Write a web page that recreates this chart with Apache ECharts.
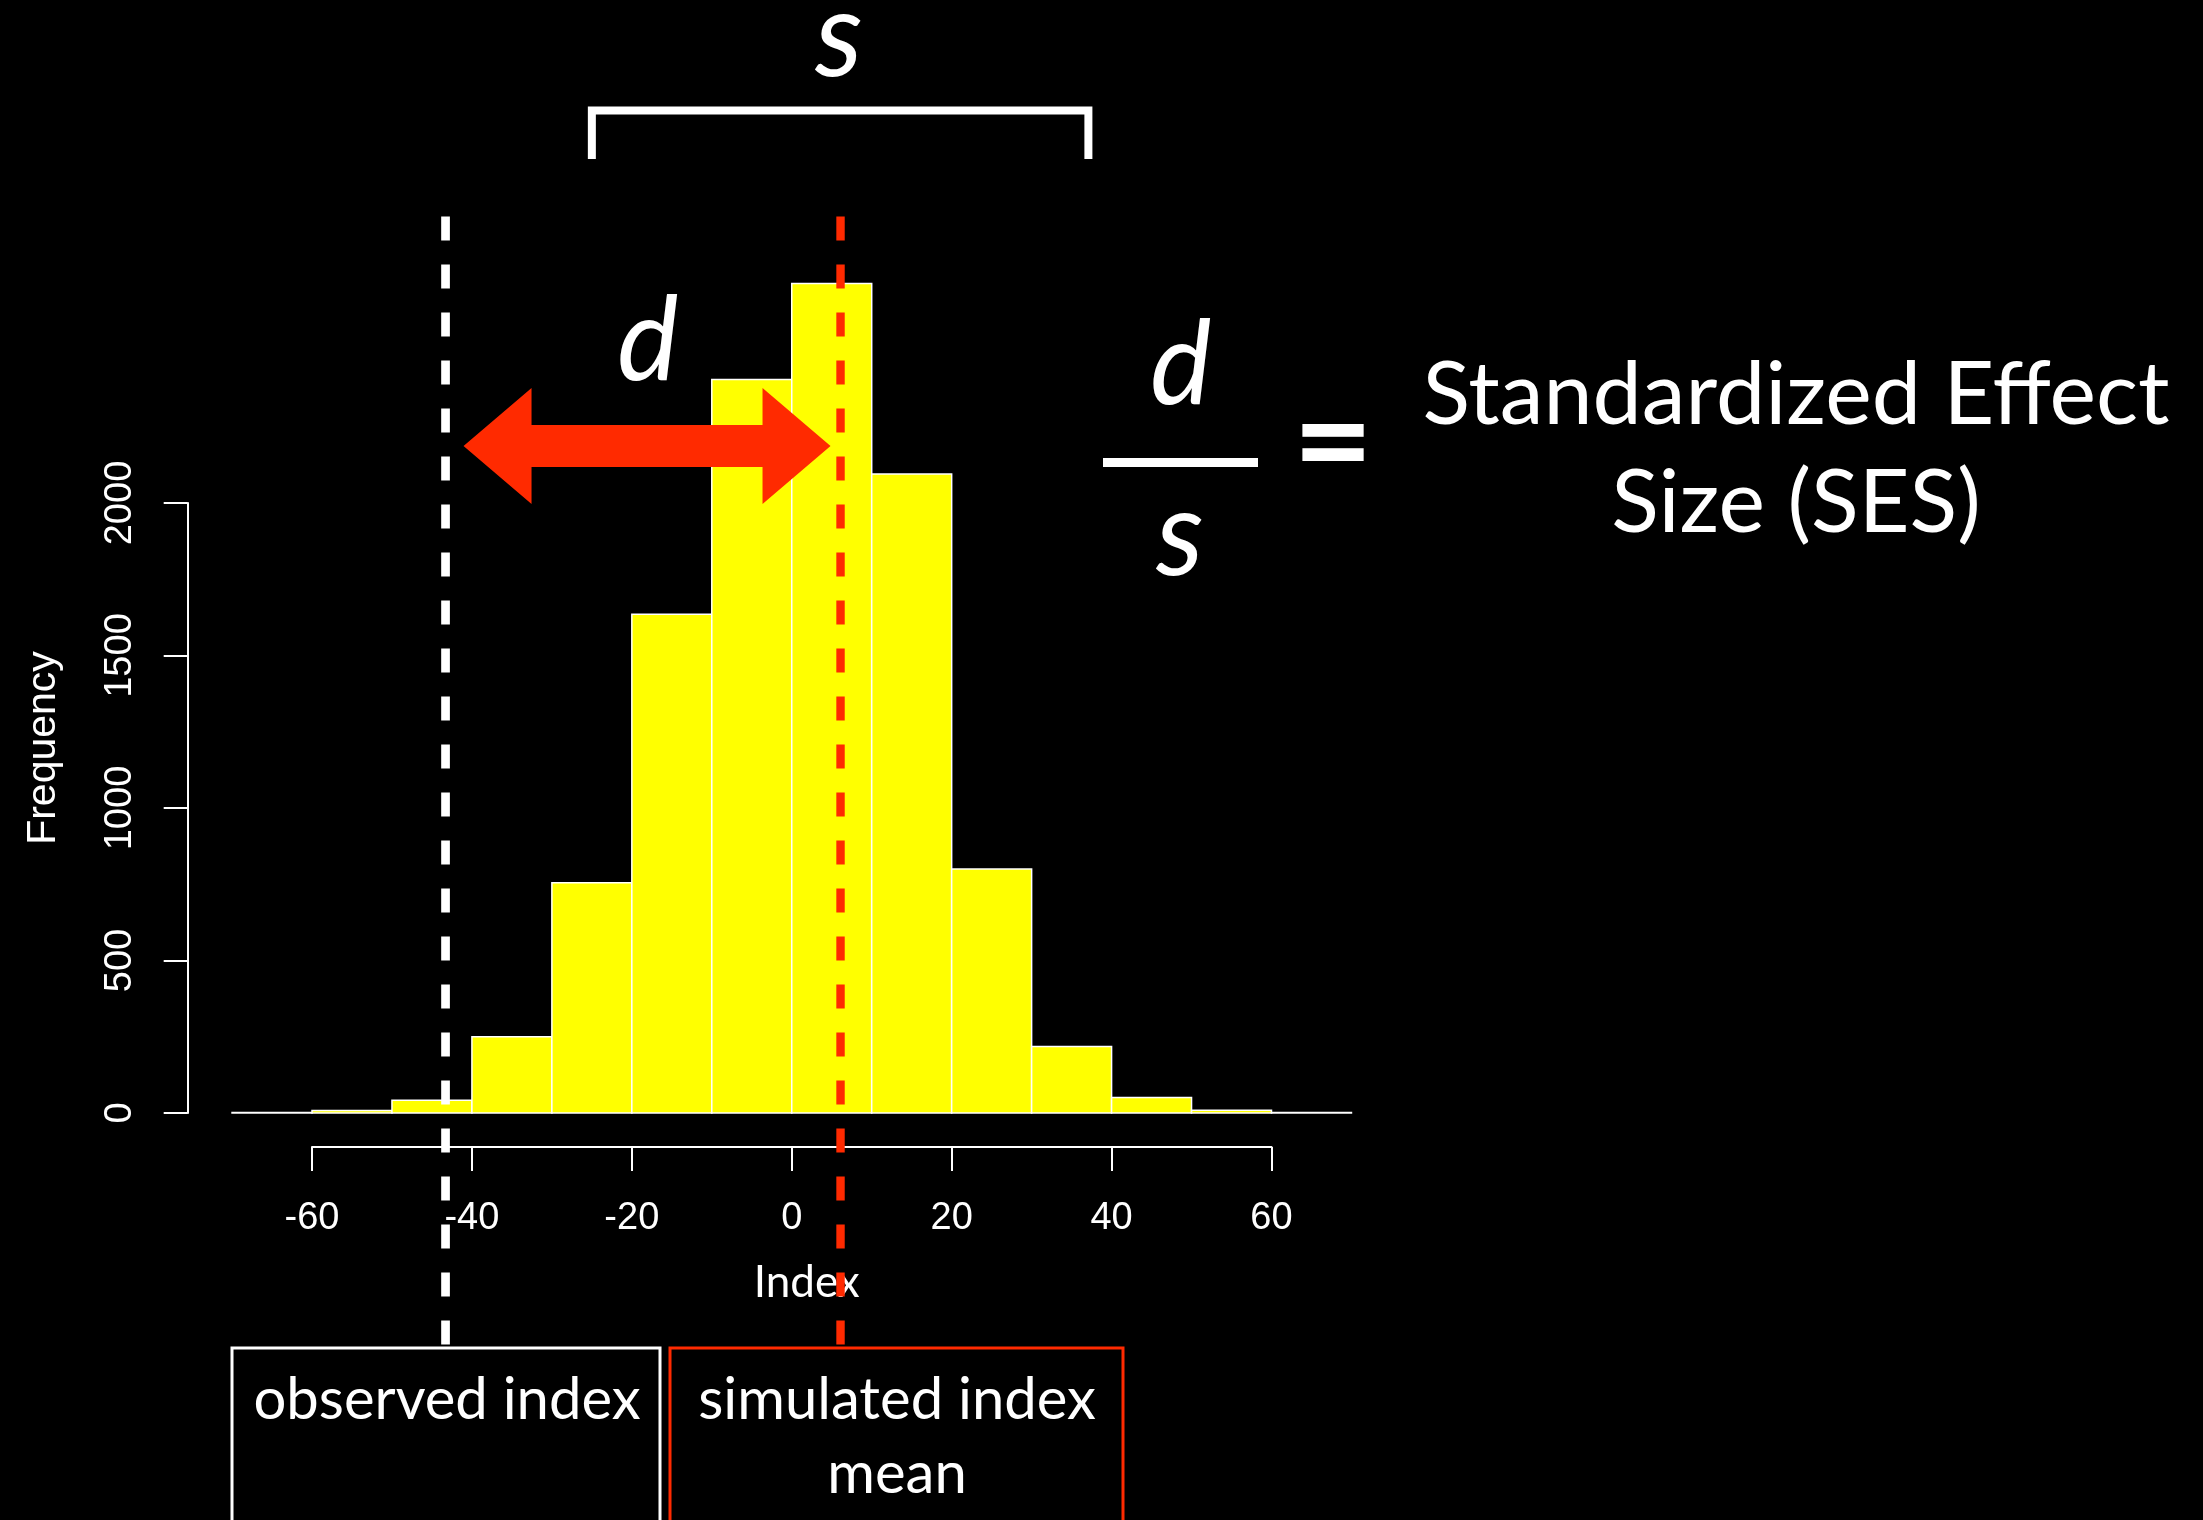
<!DOCTYPE html>
<html>
<head>
<meta charset="utf-8">
<title>Standardized Effect Size</title>
<script src="https://cdn.jsdelivr.net/npm/echarts@6/dist/echarts.min.js"></script>
<style>
  html, body { margin: 0; padding: 0; background: #000; }
  #chart { width: 2203px; height: 1520px; }
</style>
</head>
<body>
<div id="chart"></div>
<script>
// histogram bins (Index) and their frequencies
const binStart = [-70, -60, -50, -40, -30, -20, -10, 0, 10, 20, 30, 40, 50, 60];
const binEnd = [-60, -50, -40, -30, -20, -10, 0, 10, 20, 30, 40, 50, 60, 70];
const counts = [2, 8, 42, 250, 755, 1635, 2405, 2720, 2095, 800, 218, 51, 9, 2];

// tick values of the two axes
const xTicks = [-60, -40, -20, 0, 20, 40, 60];
const yTicks = [0, 500, 1000, 1500, 2000];

// annotation values
const observedIndex = -43.3;
const simulatedMean = 6.1;
const sdRange = [-25, 37.1];

// layout: plotting area of the axes (pixels)
const axLeft = 312, axRight = 1271.5, axTop = 503, axBottom = 1113;
const pxX = (axRight - axLeft) / (xTicks[xTicks.length - 1] - xTicks[0]);
const pxY = (axBottom - axTop) / (yTicks[yTicks.length - 1] - yTicks[0]);
const barMax = 3000;

const RED = '#ff2a00';
const TICK_FONT = 'Liberation Sans';
const SLIDE_FONT = 'Lato';

let myChart = echarts.init(document.getElementById('chart'));

const histData = binStart.map((s, i) => [s, binEnd[i], counts[i]]);

myChart.setOption({
  backgroundColor: '#000',
  animation: false,
  grid: [
    { // bars
      left: axLeft - (xTicks[0] - binStart[0]) * pxX,
      width: (binEnd[binEnd.length - 1] - binStart[0]) * pxX,
      top: axBottom - barMax * pxY,
      height: barMax * pxY
    },
    { // axes, R style
      left: axLeft,
      width: axRight - axLeft,
      top: axTop,
      height: axBottom - axTop
    }
  ],
  xAxis: [
    { gridIndex: 0, type: 'value', min: binStart[0], max: binEnd[binEnd.length - 1], show: false },
    {
      gridIndex: 1, type: 'value',
      min: xTicks[0], max: xTicks[xTicks.length - 1], interval: xTicks[1] - xTicks[0],
      offset: 34,
      axisLine: { show: true, onZero: false, lineStyle: { color: '#fff', width: 2 } },
      axisTick: { show: true, length: 24, lineStyle: { color: '#fff', width: 2 } },
      axisLabel: { color: '#fff', fontFamily: TICK_FONT, fontSize: 38, lineHeight: 38, margin: 53 },
      splitLine: { show: false },
      name: 'Index',
      nameLocation: 'middle',
      nameGap: 114,
      nameTextStyle: { color: '#fff', fontFamily: SLIDE_FONT, fontSize: 44, lineHeight: 44, padding: [0, 0, 0, 30] }
    }
  ],
  yAxis: [
    { gridIndex: 0, type: 'value', min: 0, max: barMax, show: false },
    {
      gridIndex: 1, type: 'value',
      min: yTicks[0], max: yTicks[yTicks.length - 1], interval: yTicks[1] - yTicks[0],
      offset: axLeft - 187.7,
      axisLine: { show: true, onZero: false, lineStyle: { color: '#fff', width: 2 } },
      axisTick: { show: true, length: 24, lineStyle: { color: '#fff', width: 2 } },
      axisLabel: {
        color: '#fff', fontFamily: TICK_FONT, fontSize: 38, lineHeight: 38, rotate: 90, margin: 48,
        formatter: v => String(v)
      },
      splitLine: { show: false },
      name: 'Frequency',
      nameLocation: 'middle',
      nameGap: 124,
      nameTextStyle: { color: '#fff', fontFamily: TICK_FONT, fontSize: 41, lineHeight: 41, padding: [0, 0, 0, 120] }
    }
  ],
  series: [
    {
      // histogram
      type: 'custom',
      xAxisIndex: 0, yAxisIndex: 0,
      data: histData,
      renderItem: function (params, api) {
        const p0 = api.coord([api.value(0), 0]);
        const p1 = api.coord([api.value(1), api.value(2)]);
        return {
          type: 'rect',
          shape: { x: p0[0], y: p1[1], width: p1[0] - p0[0], height: p0[1] - p1[1] },
          style: { fill: '#ffff00', stroke: '#fff', lineWidth: 1.5 }
        };
      }
    },
    {
      // observed / simulated mean dashed lines
      type: 'custom',
      xAxisIndex: 0, yAxisIndex: 0,
      z: 5,
      data: [[observedIndex, 0], [simulatedMean, 1]],
      renderItem: function (params, api) {
        const x = api.coord([api.value(0), 0])[0];
        const isMean = api.value(1) === 1;
        return {
          type: 'line',
          shape: { x1: x, y1: 216.4, x2: x, y2: 1345 },
          style: { stroke: isMean ? RED : '#fff', lineWidth: isMean ? 8.4 : 8.7, lineDash: [24, 24] }
        };
      }
    },
    {
      // d : double arrow
      type: 'custom',
      xAxisIndex: 0, yAxisIndex: 0,
      z: 6,
      data: [[observedIndex, simulatedMean]],
      renderItem: function (params, api) {
        const L = api.coord([api.value(0), 0])[0] + 18;
        const R = api.coord([api.value(1), 0])[0] - 10;
        const cy = 446, sh = 21, hh = 58, hl = 68;
        return {
          type: 'polygon',
          shape: {
            points: [
              [L, cy], [L + hl, cy - hh], [L + hl, cy - sh], [R - hl, cy - sh], [R - hl, cy - hh],
              [R, cy], [R - hl, cy + hh], [R - hl, cy + sh], [L + hl, cy + sh], [L + hl, cy + hh]
            ]
          },
          style: { fill: RED }
        };
      }
    },
    {
      // s : bracket
      type: 'custom',
      xAxisIndex: 0, yAxisIndex: 0,
      data: [sdRange],
      renderItem: function (params, api) {
        const a = api.coord([api.value(0), 0])[0];
        const b = api.coord([api.value(1), 0])[0];
        return {
          type: 'polyline',
          shape: { points: [[a, 159], [a, 110.5], [b, 110.5], [b, 159]] },
          style: { stroke: '#fff', lineWidth: 8, fill: null }
        };
      }
    }
  ],
  graphic: [
    { type: 'text', x: 839, y: 37, style: { text: 's', font: 'italic 120px ' + SLIDE_FONT, fill: '#fff', align: 'center', verticalAlign: 'middle' } },
    { type: 'text', x: 648, y: 343, style: { text: 'd', font: 'italic 116px ' + SLIDE_FONT, fill: '#fff', align: 'center', verticalAlign: 'middle' } },
    { type: 'text', x: 1181, y: 367, style: { text: 'd', font: 'italic 116px ' + SLIDE_FONT, fill: '#fff', align: 'center', verticalAlign: 'middle' } },
    { type: 'rect', shape: { x: 1103, y: 458, width: 155, height: 9 }, style: { fill: '#fff' } },
    { type: 'text', x: 1180, y: 536, style: { text: 's', font: 'italic 120px ' + SLIDE_FONT, fill: '#fff', align: 'center', verticalAlign: 'middle' } },
    { type: 'text', x: 1333, y: 444, style: { text: '=', font: 'bold 138px ' + SLIDE_FONT, fill: '#fff', align: 'center', verticalAlign: 'middle' } },
    { type: 'text', x: 1796, y: 396, style: { text: 'Standardized Effect', font: '88px ' + SLIDE_FONT, fill: '#fff', align: 'center', verticalAlign: 'middle' } },
    { type: 'text', x: 1796, y: 504, style: { text: 'Size (SES)', font: '88px ' + SLIDE_FONT, fill: '#fff', align: 'center', verticalAlign: 'middle' } },
    // legend boxes at the bottom
    { type: 'rect', shape: { x: 232, y: 1348, width: 428, height: 200 }, style: { fill: null, stroke: '#fff', lineWidth: 3 } },
    { type: 'rect', shape: { x: 670, y: 1348, width: 453, height: 200 }, style: { fill: null, stroke: RED, lineWidth: 3 } },
    { type: 'text', x: 447, y: 1400, style: { text: 'observed index', font: '58px ' + SLIDE_FONT, fill: '#fff', align: 'center', verticalAlign: 'middle' } },
    { type: 'text', x: 897, y: 1400, style: { text: 'simulated index', font: '58px ' + SLIDE_FONT, fill: '#fff', align: 'center', verticalAlign: 'middle' } },
    { type: 'text', x: 897, y: 1474, style: { text: 'mean', font: '58px ' + SLIDE_FONT, fill: '#fff', align: 'center', verticalAlign: 'middle' } }
  ]
});
</script>
</body>
</html>
